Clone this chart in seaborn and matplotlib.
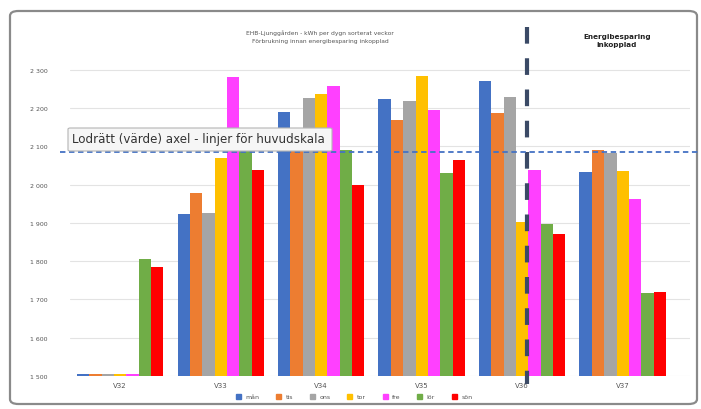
import matplotlib
matplotlib.use("Agg")
import matplotlib.pyplot as plt
from matplotlib.patches import FancyBboxPatch
from matplotlib.lines import Line2D
import seaborn as sns
import pandas as pd

# Weekly kWh per day, grouped by week, one series per weekday
weeks = ["V32", "V33", "V34", "V35", "V36", "V37"]
days = ["mån", "tis", "ons", "tor", "fre", "lör", "sön"]
man = [1504, 1923, 2189, 2223, 2270, 2033]
tis = [1504, 1978, 2130, 2168, 2187, 2090]
ons = [1504, 1925, 2226, 2218, 2228, 2082]
tor = [1504, 2069, 2236, 2283, 1902, 2035]
fre = [1504, 2281, 2257, 2195, 2038, 1962]
lor = [1805, 2090, 2090, 2030, 1897, 1716]
son = [1785, 2038, 1999, 2064, 1871, 1719]
ytick_vals = [1500, 1600, 1700, 1800, 1900, 2000, 2100, 2200, 2300]
ytick_labels = ["1 500", "1 600", "1 700", "1 800", "1 900", "2 000", "2 100", "2 200", "2 300"]
colors = ["#4472C4", "#ED7D31", "#A5A5A5", "#FFC000", "#FF40FF", "#70AD47", "#FF0000"]

series = [man, tis, ons, tor, fre, lor, son]
rows = []
for d, vals in zip(days, series):
    for w, v in zip(weeks, vals):
        rows.append({"vecka": w, "dag": d, "kWh": v})
df = pd.DataFrame(rows)

sns.set_theme(style="white")
plt.rcParams["font.family"] = ["DejaVu Sans"]

W, H = 701, 410
fig = plt.figure(figsize=(W / 100, H / 100), dpi=100)
fig.patch.set_facecolor("white")

def fx(px):
    return px / W

def fy(py):
    return 1 - py / H

# chart frame
frame = FancyBboxPatch((fx(10), fy(405)), fx(687), 393 / H,
                       boxstyle="round,pad=0,rounding_size=0.012",
                       transform=fig.transFigure, facecolor="none",
                       edgecolor="#8a8a8a", linewidth=1.6, zorder=0)
fig.patches.append(frame)

ymin, ymax = 1500, 2330
ax_bottom = 377
ax_top = ax_bottom - (ymax - ymin) * 0.383
ax = fig.add_axes([fx(70), fy(ax_bottom), fx(620), (ax_bottom - ax_top) / H])
ax.set_facecolor("none")

sns.barplot(data=df, x="vecka", y="kWh", hue="dag", order=weeks, hue_order=days,
            palette=colors, width=0.86, gap=0, saturation=1, ax=ax,
            edgecolor="none", legend=False, zorder=3)

ax.set_ylim(ymin, ymax)
# categories are spaced ~100 px apart; the extra room on the right lets the gridlines run on
ax.set_xlim(-0.5, len(weeks) - 0.5 + 0.17)
ax.set_yticks(ytick_vals)
ax.set_yticklabels(ytick_labels, fontsize=4.5, color="#555555")
ax.tick_params(axis="y", length=0, pad=16)
ax.tick_params(axis="x", length=0, pad=4, labelsize=5, labelcolor="#555555")
ax.set_xlabel("")
ax.set_ylabel("")
for s in ax.spines.values():
    s.set_visible(False)
ax.yaxis.grid(True, color="#e3e3e3", linewidth=0.8, zorder=0)
ax.set_axisbelow(True)

# titles
fig.text(fx(320), fy(33), "EHB-Ljunggården - kWh per dygn sorterat veckor",
         ha="center", va="center", fontsize=4.3, color="#555555")
fig.text(fx(320), fy(42), "Förbrukning innan energibesparing inkopplad",
         ha="center", va="center", fontsize=4.3, color="#555555")
fig.text(fx(617), fy(41), "Energibesparing\ninkopplad", ha="center", va="center",
         fontsize=5.2, fontweight="bold", color="#222222", linespacing=1.3)

# vertical marker between weeks
fig.lines.append(Line2D([fx(527), fx(527)], [fy(28), fy(385)], transform=fig.transFigure,
                        color="#3b4a66", linewidth=3, linestyle=(0, (4, 3.5)), zorder=10))

# highlighted gridline and its tooltip
fig.lines.append(Line2D([fx(60), fx(700)], [fy(153), fy(153)], transform=fig.transFigure,
                        color="#4472C4", linewidth=1.3, linestyle=(0, (3, 2)), zorder=10))
tip = FancyBboxPatch((fx(68), fy(152)), fx(264), 23 / H,
                     boxstyle="round,pad=0,rounding_size=0.003",
                     transform=fig.transFigure, facecolor="#f6f6f6",
                     edgecolor="#b5b5b5", linewidth=0.8, zorder=11)
fig.patches.append(tip)
fig.text(fx(72), fy(140), "Lodrätt (värde) axel - linjer för huvudskala",
         ha="left", va="center", fontsize=8.6, color="#333333", zorder=12)

# legend
handles = [Line2D([0], [0], marker="s", linestyle="none", markersize=3.6,
                  markerfacecolor=c, markeredgecolor=c) for c in colors]
fig.legend(handles, days, loc="center", bbox_to_anchor=(fx(352), fy(397)), ncol=7,
           frameon=False, fontsize=4.5, handletextpad=0.2, columnspacing=2.0,
           labelcolor="#555555")

fig.savefig("out.png", dpi=100, facecolor="white")
